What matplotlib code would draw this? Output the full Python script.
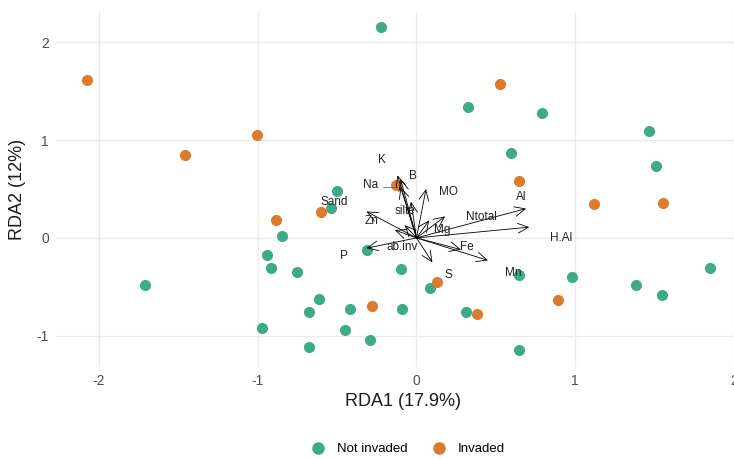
import matplotlib
matplotlib.use("Agg")
import matplotlib.pyplot as plt
from matplotlib.lines import Line2D

plt.rcParams['font.family'] = ['Liberation Sans', 'DejaVu Sans']
plt.rcParams['axes.unicode_minus'] = False

# site scores (RDA1, RDA2)
not_invaded_x = [-0.224, -0.499, 0.327, 0.792, 1.465, 0.597, 1.507, -0.099, 1.851, 0.645,
                 0.977, 0.088, 1.384, 1.545, -0.092, 0.310, 0.645, -0.539, -0.849, -0.940,
                 -0.314, -0.918, -0.751, -1.711, -0.616, -0.675, -0.419, -0.973, -0.453,
                 -0.679, -0.294]
not_invaded_y = [2.156, 0.481, 1.335, 1.273, 1.092, 0.870, 0.734, -0.320, -0.303, -0.379,
                 -0.399, -0.512, -0.484, -0.587, -0.723, -0.761, -1.149, 0.307, 0.017, -0.170,
                 -0.119, -0.303, -0.351, -0.477, -0.620, -0.760, -0.730, -0.921, -0.938,
                 -1.112, -1.044]
invaded_x = [-2.075, -1.002, -1.457, -0.132, 0.528, 0.643, 1.115, 1.553, 0.126, 0.889,
             0.379, -0.602, -0.885, -0.283]
invaded_y = [1.611, 1.051, 0.843, 0.539, 1.576, 0.587, 0.345, 0.362, -0.447, -0.631,
             -0.778, 0.266, 0.181, -0.692]

# environmental vectors
env_names = ['Al', 'H.Al', 'Ntotal', 'Mg', 'MO', 'silte', 'B', 'K', 'Na', 'Zn',
             'Sand', 'ab.inv', 'P', 'S', 'Fe', 'Mn']
env_x = [0.69, 0.71, 0.18, 0.08, 0.06, -0.035, -0.10, -0.12, -0.10, -0.315,
         -0.136, -0.074, -0.315, 0.10, 0.28, 0.45]
env_y = [0.30, 0.11, 0.22, 0.18, 0.50, 0.37, 0.60, 0.64, 0.52, 0.27,
         0.08, 0.13, -0.105, -0.25, -0.12, -0.23]
# repelled label positions
lab_x = [0.66, 0.91, 0.41, 0.16, 0.20, -0.07, -0.02, -0.22, -0.29, -0.28,
         -0.52, -0.09, -0.46, 0.20, 0.32, 0.61]
lab_y = [0.42, 0.00, 0.215, 0.08, 0.47, 0.28, 0.63, 0.80, 0.54, 0.17,
         0.37, -0.09, -0.19, -0.375, -0.09, -0.36]

teal = '#3DAA8A'
orange = '#DC7A2E'

fig = plt.figure(figsize=(7.34, 4.59), dpi=100)
ax = fig.add_axes([56 / 734, 92 / 459, 694 / 734, 355 / 459])
ax.set_xlim(-2.27, 2.1)
ax.set_ylim(-1.32, 2.31)

ax.scatter(not_invaded_x, not_invaded_y, s=64, color=teal, linewidths=0, zorder=2)
ax.scatter(invaded_x, invaded_y, s=64, color=orange, linewidths=0, zorder=2)

for name, x, y, lx, ly in zip(env_names, env_x, env_y, lab_x, lab_y):
    ax.annotate('', xy=(x, y), xytext=(0, 0),
                arrowprops=dict(arrowstyle='->,head_length=0.75,head_width=0.35',
                                color='black', lw=0.6, shrinkA=0, shrinkB=0),
                zorder=3)
    ax.text(lx, ly, name, fontsize=8.5, color='#222222', ha='center', va='center', zorder=4)
    if name == 'Na':
        ax.plot([lx + 0.08, x - 0.02], [ly - 0.02, y], color='#555555', lw=0.5, zorder=3)

ax.set_xticks([-2, -1, 0, 1, 2])
ax.set_yticks([-1, 0, 1, 2])
ax.grid(True, color='#EBEBEB', lw=1.0)
ax.set_axisbelow(True)
for sp in ax.spines.values():
    sp.set_visible(False)
ax.tick_params(length=0, labelsize=10, labelcolor='#4D4D4D', pad=5)
ax.set_xlabel('RDA1 (17.9%)', fontsize=13, color='#1A1A1A', labelpad=4)
ax.set_ylabel('RDA2 (12%)', fontsize=13, color='#1A1A1A', labelpad=8)
ax.xaxis.label.set_x((403 - 56) / 694)

handles = [Line2D([], [], marker='o', ls='', color=teal, markersize=8, label='Not invaded'),
           Line2D([], [], marker='o', ls='', color=orange, markersize=8, label='Invaded')]
fig.legend(handles=handles, loc='center', bbox_to_anchor=(405 / 734, 1 - 449 / 459), ncol=2,
           frameon=False, fontsize=9.5, handletextpad=0.4, columnspacing=1.4)

fig.savefig('out.png', dpi=100)
